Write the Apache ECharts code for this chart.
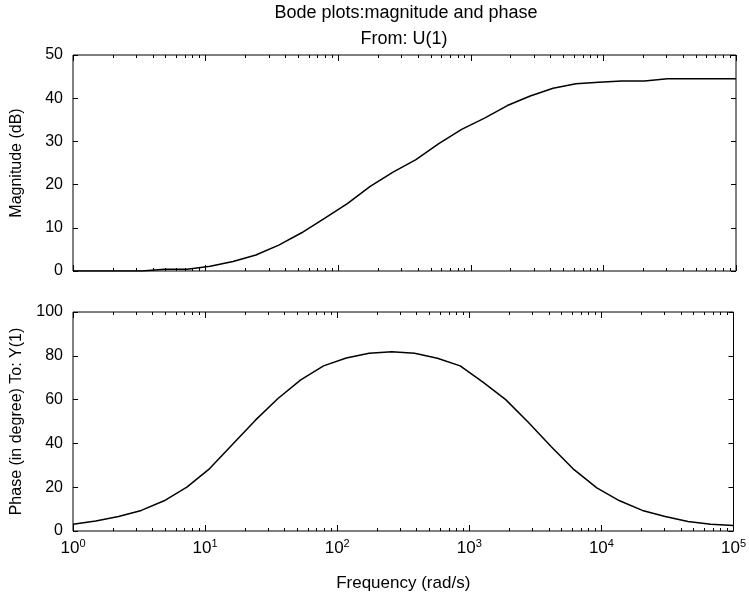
<!DOCTYPE html>
<html>
<head>
<meta charset="utf-8">
<script src="https://cdn.jsdelivr.net/npm/echarts@6/dist/echarts.min.js"></script>
<style>
  html, body { margin: 0; padding: 0; background: #fff; }
  #chart { width: 749px; height: 597px; }
</style>
</head>
<body>
<div id="chart"></div>
<script>
// frequency points (rad/s), log spaced 1 .. 1e5
const freq = [1, 1.487, 2.212, 3.290, 4.894, 7.279, 10.83, 16.10, 23.95, 35.62,
  52.98, 78.80, 117.2, 174.3, 259.3, 385.7, 573.7, 853.2, 1269, 1887,
  2807, 4175, 6210, 9237, 13738, 20434, 30392, 45204, 67234, 100000];

// magnitude (dB)
const magnitude = [0, 0, 0, 0, 0.4, 0.4, 1.1, 2.2, 3.7, 6.0,
  8.85, 12.2, 15.6, 19.6, 22.9, 25.8, 29.5, 32.8, 35.4, 38.3,
  40.5, 42.3, 43.35, 43.7, 44.0, 44.0, 44.5, 44.5, 44.5, 44.5];

// phase (degree)
const phase = [3.1, 4.6, 6.6, 9.4, 13.8, 20, 28.5, 39.5, 50.5, 60.5,
  69, 75.4, 79, 81.2, 81.8, 81.2, 78.9, 75.4, 68, 60,
  49.5, 38.5, 28, 19.7, 13.8, 9.4, 6.6, 4.3, 3.1, 2.5];

const decadeTicks = [1, 10, 100, 1000, 10000, 100000];
const minorTicks = [];
for (let d = 0; d < 5; d++) {
  for (let m = 2; m <= 9; m++) minorTicks.push(m * Math.pow(10, d));
}

const font = "'Liberation Sans', Arial, sans-serif";
const chart = echarts.init(document.getElementById('chart'));

const grids = [
  { left: 73, right: 13, top: 55, height: 216 },
  { left: 73, right: 13, top: 312, height: 219 }
];

// 4 x axes per grid: bottom major/minor, top major/minor
function xAxes(gridIndex, withLabels) {
  const base = {
    type: 'log', gridIndex: gridIndex, min: 1, max: 100000, logBase: 10,
    axisLine: { show: false }, splitLine: { show: false }
  };
  const list = [];
  ['bottom', 'top'].forEach(function (pos) {
    list.push(Object.assign({}, base, {
      position: pos,
      axisTick: { inside: true, length: 6, customValues: decadeTicks, lineStyle: { color: '#000' } },
      axisLabel: (withLabels && pos === 'bottom') ? {
        customValues: decadeTicks,
        margin: 7,
        formatter: function (v) { return '{b|10}{e|' + Math.round(Math.log10(v)) + '}'; },
        rich: {
          b: { fontSize: 17, fontFamily: font, color: '#000' },
          e: { fontSize: 11, fontFamily: font, color: '#000', padding: [0, 0, 9, 0] }
        }
      } : { show: false },
      name: (withLabels && pos === 'bottom') ? 'Frequency (rad/s)' : '',
      nameLocation: 'middle',
      nameGap: 44,
      nameTextStyle: { fontSize: 17, fontFamily: font, color: '#000' }
    }));
    list.push(Object.assign({}, base, {
      position: pos,
      axisTick: { inside: true, length: 3, customValues: minorTicks, lineStyle: { color: '#000' } },
      axisLabel: { show: false }
    }));
  });
  return list;
}

function yAxes(gridIndex, max, name) {
  const base = {
    type: 'value', gridIndex: gridIndex, min: 0, max: max, interval: max / 5,
    axisLine: { show: false }, splitLine: { show: false },
    axisTick: { inside: true, length: 5, lineStyle: { color: '#000' } }
  };
  return [
    Object.assign({}, base, {
      position: 'left',
      axisLabel: { fontSize: 16, fontFamily: font, color: '#000', margin: 10 },
      name: name, nameLocation: 'middle', nameGap: 48,
      nameTextStyle: { fontSize: 16, fontFamily: font, color: '#000' }
    }),
    Object.assign({}, base, { position: 'right', axisLabel: { show: false } })
  ];
}

chart.setOption({
  animation: false,
  backgroundColor: '#fff',
  textStyle: { fontFamily: font },
  grid: grids.map(function (g) {
    return Object.assign({ show: true, borderColor: '#000', borderWidth: 1, backgroundColor: 'transparent' }, g);
  }),
  graphic: [
    { type: 'text', x: 406, y: 13, style: { text: 'Bode plots:magnitude and phase', align: 'center', verticalAlign: 'middle', fontSize: 18, fontFamily: font, fill: '#000' } },
    { type: 'text', x: 404, y: 39, style: { text: 'From: U(1)', align: 'center', verticalAlign: 'middle', fontSize: 18, fontFamily: font, fill: '#000' } }
  ],
  xAxis: xAxes(0, false).concat(xAxes(1, true)),
  yAxis: yAxes(0, 50, 'Magnitude (dB)').concat(yAxes(1, 100, 'Phase (in degree) To: Y(1)')),
  series: [
    {
      type: 'line', xAxisIndex: 0, yAxisIndex: 0, showSymbol: false,
      lineStyle: { color: '#000', width: 1.5 },
      data: freq.map(function (f, i) { return [f, magnitude[i]]; })
    },
    {
      type: 'line', xAxisIndex: 4, yAxisIndex: 2, showSymbol: false,
      lineStyle: { color: '#000', width: 1.5 },
      data: freq.map(function (f, i) { return [f, phase[i]]; })
    }
  ]
});
</script>
</body>
</html>
